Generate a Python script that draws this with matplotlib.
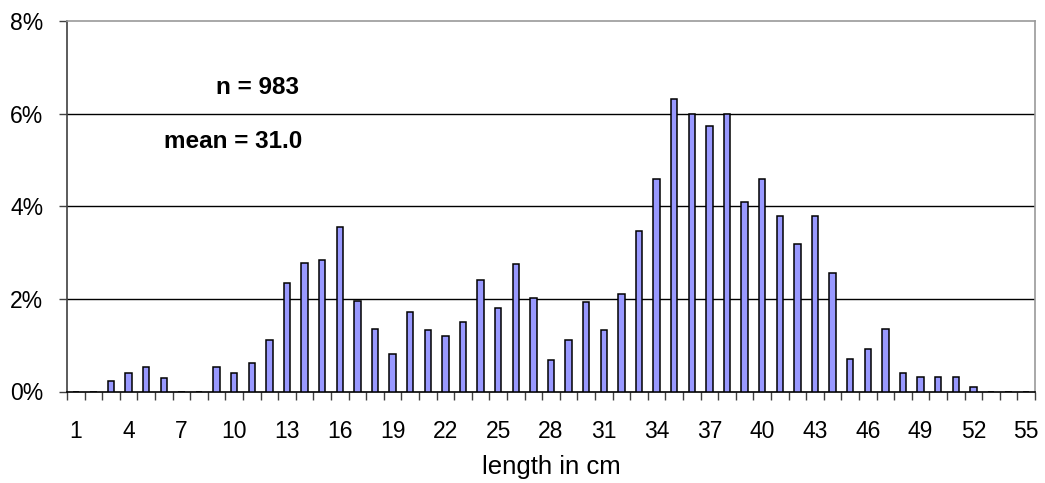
import numpy as np
import matplotlib.pyplot as plt
from matplotlib.ticker import FixedLocator, FuncFormatter

plt.rcParams['font.family'] = ['Liberation Sans', 'DejaVu Sans']

lengths = np.arange(1, 56)
# percent of fish per 1 cm length class
pct = [0, 0, 0.22, 0.39, 0.52, 0.30, 0, 0, 0.52, 0.39,
       0.61, 1.12, 2.34, 2.77, 2.85, 3.55, 1.95, 1.34, 0.82, 1.72,
       1.33, 1.21, 1.51, 2.41, 1.81, 2.76, 2.03, 0.69, 1.12, 1.93,
       1.33, 2.11, 3.46, 4.59, 6.32, 6.00, 5.73, 6.00, 4.09, 4.59,
       3.79, 3.18, 3.79, 2.57, 0.70, 0.92, 1.35, 0.39, 0.31, 0.31,
       0.31, 0.10, 0, 0, 0]
xlabels = list(range(1, 56, 3))
n_text = "n = 983"
mean_text = "mean = 31.0"

W, H = 1045, 483
fig = plt.figure(figsize=(W / 100, H / 100), dpi=100)
ax = fig.add_axes([67 / W, 1 - 391.5 / H, 968 / W, 370.2 / H])

ax.bar(lengths, pct, width=0.37, color='#9999FF', edgecolor='black',
       linewidth=1.1, zorder=3)

ax.set_xlim(0.5, 55.5)
ax.set_ylim(0, 8)
ax.set_yticks([0, 2, 4, 6, 8])
ax.yaxis.set_major_formatter(FuncFormatter(lambda v, p: f"{v:.0f}%"))
for y in [2, 4, 6]:
    ax.axhline(y, color='black', linewidth=1.0, zorder=1)

ax.xaxis.set_major_locator(FixedLocator(xlabels))
ax.xaxis.set_minor_locator(FixedLocator(np.arange(0.5, 56, 1)))
ax.tick_params(axis='x', which='major', length=0, pad=20.5, labelsize=16.5)
ax.tick_params(axis='x', which='minor', length=5.5, width=1, color='#404040')
ax.tick_params(axis='y', which='major', length=5.5, width=1, labelsize=16.5,
               pad=11.5, color='#404040')

ax.spines['left'].set_color('#404040')
ax.spines['bottom'].set_color('black')
ax.spines['top'].set_color('#999999')
ax.spines['right'].set_color('#999999')
for s in ax.spines.values():
    s.set_linewidth(1.2)

fig.text(551 / W, 1 - 474 / H, "length in cm", ha='center', va='baseline',
         fontsize=18.5)

fig.text(257.5 / W, 1 - 94.3 / H, n_text, ha='center', va='baseline',
         fontsize=17.5, fontweight='bold')
fig.text(233 / W, 1 - 148.3 / H, mean_text, ha='center', va='baseline',
         fontsize=17.5, fontweight='bold')

fig.savefig('out.png', dpi=100)
